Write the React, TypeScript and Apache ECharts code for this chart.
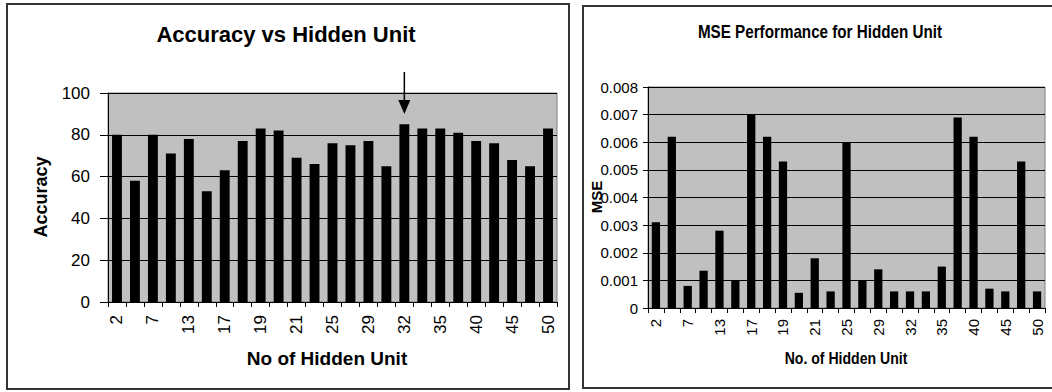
import React, { useEffect, useRef } from "react";
import * as echarts from "echarts";

// Hidden-unit counts on the category axis (every other one is labelled)
const hiddenUnits = [
  "2", "5", "7", "10", "13", "15", "17", "18", "19", "20", "21", "23", "25",
  "27", "29", "30", "32", "33", "35", "37", "40", "43", "45", "47", "50",
];

// Classification accuracy (%) per hidden-unit count
const accuracy = [
  80, 58, 80, 71, 78, 53, 63, 77, 83, 82, 69, 66, 76,
  75, 77, 65, 85, 83, 83, 81, 77, 76, 68, 65, 83,
];

// Mean squared error per hidden-unit count
const mse = [
  0.0031, 0.0062, 0.0008, 0.00135, 0.0028, 0.001, 0.007, 0.0062, 0.0053,
  0.00055, 0.0018, 0.0006, 0.006, 0.001, 0.0014, 0.0006, 0.0006, 0.0006,
  0.0015, 0.0069, 0.0062, 0.0007, 0.0006, 0.0053, 0.0006,
];

// Value-axis ranges
const accuracyAxis = { min: 0, max: 100, step: 20 };
const mseAxis = { min: 0, max: 0.008, step: 0.001 };

// Highlighted configuration (arrow)
const bestUnit = "32";

const titles = {
  left: "Accuracy vs Hidden Unit",
  leftX: "No of Hidden Unit",
  leftY: "Accuracy",
  right: "MSE Performance for Hidden Unit",
  rightX: "No. of Hidden Unit",
  rightY: "MSE",
};

const FONT = 'Arial, "Liberation Sans", sans-serif';

export default function App() {
  const ref = useRef<HTMLDivElement>(null);

  useEffect(() => {
    document.body.style.margin = "0";
    if (!ref.current) return;
    const chart = echarts.init(ref.current, undefined, { renderer: "svg" });

    const catAxis = (gridIndex: number, fontSize: number, margin: number) => ({
      type: "category" as const,
      gridIndex,
      data: hiddenUnits,
      boundaryGap: true,
      axisLine: { show: true, lineStyle: { color: "#000", width: 1 } },
      axisTick: {
        show: true,
        interval: 0,
        alignWithLabel: false,
        inside: false,
        length: 5,
        lineStyle: { color: "#000", width: 1 },
      },
      axisLabel: {
        interval: 1,
        rotate: 90,
        margin,
        color: "#000",
        fontFamily: FONT,
        fontSize,
      },
      splitLine: { show: false },
    });

    const valAxis = (
      gridIndex: number,
      range: { min: number; max: number; step: number },
      fontSize: number,
      tickLen: number,
      margin: number,
      formatter: (v: number) => string
    ) => ({
      type: "value" as const,
      gridIndex,
      min: range.min,
      max: range.max,
      interval: range.step,
      axisLine: { show: true, lineStyle: { color: "#000", width: 1 } },
      axisTick: {
        show: true,
        length: tickLen,
        lineStyle: { color: "#000", width: 1 },
      },
      axisLabel: {
        margin,
        color: "#000",
        fontFamily: FONT,
        fontSize,
        formatter,
      },
      splitLine: { show: true, lineStyle: { color: "#000", width: 1.2 } },
    });

    const text = (
      str: string,
      x: number,
      y: number,
      size: number,
      opts: { rotate?: boolean; scaleX?: number; bold?: boolean } = {}
    ) => ({
      type: "text",
      x,
      y,
      rotation: opts.rotate ? Math.PI / 2 : 0,
      scaleX: opts.scaleX ?? 1,
      z: 100,
      style: {
        text: str,
        font: `${opts.bold === false ? "normal" : "bold"} ${size}px ${FONT}`,
        fill: "#000",
        align: "center",
        verticalAlign: "middle",
        textAlign: "center",
        textVerticalAlign: "middle",
      },
    });

    const staticGraphics: any[] = [
      // panel frames
      {
        type: "rect",
        shape: { x: 7, y: 4, width: 562, height: 385 },
        style: { fill: "none", stroke: "#333", lineWidth: 2 },
        z: 1,
      },
      {
        type: "rect",
        shape: { x: 583, y: 6, width: 480, height: 382 },
        style: { fill: "none", stroke: "#333", lineWidth: 2 },
        z: 1,
      },
      text(titles.left, 286, 34, 22),
      text(titles.leftX, 327, 358, 19),
      text(titles.leftY, 41, 197, 18, { rotate: true }),
      text(titles.right, 820, 32, 18, { scaleX: 0.845 }),
      text(titles.rightX, 846, 358, 16, { scaleX: 0.88 }),
      text(titles.rightY, 596, 197, 15, { rotate: true }),
    ];

    chart.setOption({
      animation: false,
      backgroundColor: "#fff",
      grid: [
        {
          left: 108,
          top: 93,
          width: 449,
          height: 209,
          show: true,
          backgroundColor: "#c0c0c0",
          borderColor: "#808080",
          borderWidth: 1,
        },
        {
          left: 648,
          top: 87,
          width: 397,
          height: 221,
          show: true,
          backgroundColor: "#c0c0c0",
          borderColor: "#808080",
          borderWidth: 1,
        },
      ],
      xAxis: [catAxis(0, 17, 13), catAxis(1, 15, 11)],
      yAxis: [
        valAxis(0, accuracyAxis, 17, 8, 18, (v: number) => String(v)),
        valAxis(1, mseAxis, 15, 5, 10, (v: number) =>
          v === 0 ? "0" : v.toFixed(3)
        ),
      ],
      series: [
        {
          type: "bar",
          xAxisIndex: 0,
          yAxisIndex: 0,
          data: accuracy,
          barCategoryGap: "45%",
          itemStyle: { color: "#000" },
        },
        {
          type: "bar",
          xAxisIndex: 1,
          yAxisIndex: 1,
          data: mse,
          barCategoryGap: "48%",
          itemStyle: { color: "#000" },
        },
      ],
      graphic: staticGraphics,
    });

    // arrow above the best-performing configuration
    const ax = chart.convertToPixel({ xAxisIndex: 0 }, bestUnit) as number;
    const arrow: any[] = [
      {
        type: "line",
        shape: { x1: ax, y1: 72, x2: ax, y2: 102 },
        style: { stroke: "#000", lineWidth: 1.5 },
        z: 100,
      },
      {
        type: "polygon",
        shape: {
          points: [
            [ax - 6, 100],
            [ax + 6, 100],
            [ax, 114],
          ],
        },
        style: { fill: "#000" },
        z: 100,
      },
    ];
    chart.setOption({ graphic: [...staticGraphics, ...arrow] });

    return () => chart.dispose();
  }, []);

  return <div ref={ref} style={{ width: 1052, height: 392 }} />;
}
